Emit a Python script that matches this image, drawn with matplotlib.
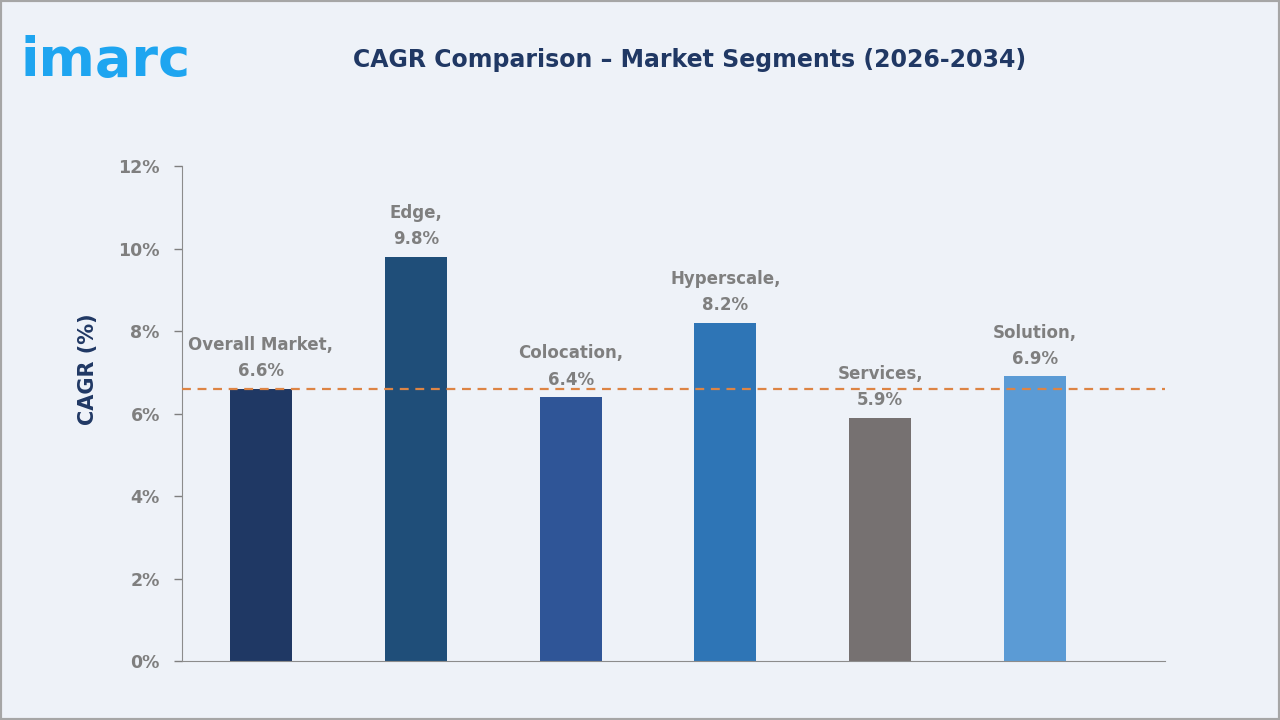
import matplotlib.pyplot as plt
from matplotlib.patches import Rectangle

segments = ['Overall Market', 'Edge', 'Colocation', 'Hyperscale', 'Services', 'Solution']
cagr = [6.6, 9.8, 6.4, 8.2, 5.9, 6.9]
bar_colors = ['#1f3864', '#1f4e79', '#2f5597', '#2e75b6', '#767171', '#5b9bd5']
y_ticks = [0, 2, 4, 6, 8, 10, 12]
overall_line = 6.6

bg = '#eef2f8'
grey = '#7f7f7f'
navy = '#203864'

fig = plt.figure(figsize=(12.8, 7.2), dpi=100, facecolor=bg)
fig.patches.append(Rectangle((0, 0), 1, 1, transform=fig.transFigure,
                             fill=False, edgecolor='#a6a6a6', linewidth=3))

ax = fig.add_axes([0.1422, 0.0819, 0.768, 0.6875])
ax.set_facecolor(bg)

x = list(range(len(segments)))
bars = ax.bar(x, cagr, width=0.4, color=bar_colors, zorder=2)

# overall market reference line
ax.axhline(overall_line, color='#dd8444', linestyle=(0, (4, 3)), linewidth=1.6, zorder=3)

for xi, name, v in zip(x, segments, cagr):
    ax.annotate('%s,\n%.1f%%' % (name, v), (xi, v), xytext=(0, 6),
                textcoords='offset points', ha='center', va='bottom',
                fontsize=12, fontweight='bold', color=grey, linespacing=1.6,
                zorder=4)

ax.set_xlim(-0.51, 5.84)
ax.set_ylim(0, 12)
ax.set_yticks(y_ticks)
ax.set_yticklabels(['%d%%' % t for t in y_ticks])
ax.set_xticks([])
ax.tick_params(axis='y', colors=grey, labelsize=12.5, length=6, width=1, pad=10)
for lbl in ax.get_yticklabels():
    lbl.set_fontweight('bold')

for s in ['top', 'right']:
    ax.spines[s].set_visible(False)
ax.spines['left'].set_color('#8c8c8c')
ax.spines['bottom'].set_color('#8c8c8c')

ax.set_ylabel('CAGR (%)', fontsize=15, fontweight='bold', color=navy)
ax.yaxis.set_label_coords(-0.085, 0.59)

fig.text(0.539, 0.916, 'CAGR Comparison \u2013 Market Segments (2026-2034)',
         ha='center', va='center', fontsize=17, fontweight='bold', color=navy)

# logo
fig.text(0.016, 0.915, 'imarc', ha='left', va='center', fontsize=39,
         fontweight='bold', color='#1ea5f0', family='DejaVu Sans')

fig.savefig('out.png', dpi=100, facecolor=bg)
